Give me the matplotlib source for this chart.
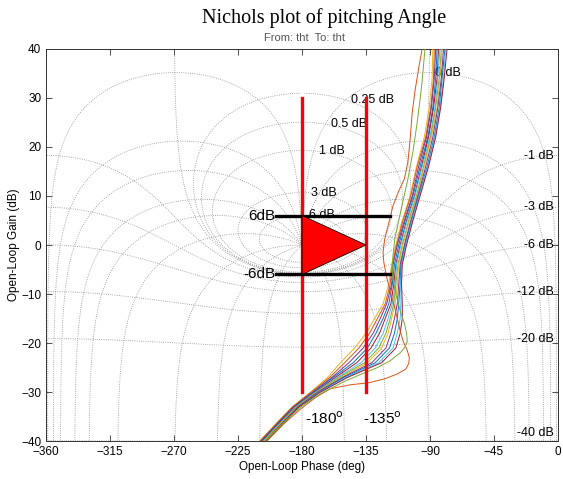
import numpy as np
import matplotlib.pyplot as plt

plt.rcParams['font.family'] = ['Liberation Sans', 'DejaVu Sans']

# Nichols chart grid levels (closed-loop gain in dB, closed-loop phase in deg)
GRID_GAINS_DB = [6, 3, 1, 0.5, 0.25, 0, -1, -3, -6, -12, -20, -40]
GRID_PHASES_DEG = [-1, -5, -10, -20, -30, -50, -90, -120, -150, -180]

X_TICKS = [-360, -315, -270, -225, -180, -135, -90, -45, 0]
Y_TICKS = [-40, -30, -20, -10, 0, 10, 20, 30, 40]

# open-loop gain levels at which the bundle of runs was read (dB)
GAIN_LEVELS = [-40, -36, -33, -30, -27, -24, -21, -18, -15, -12,
               -8, -4, 0, 5, 10, 16, 22, 28, 34, 40]

# open-loop phase (deg) of each run at GAIN_LEVELS
RUN_01 = [-210, -197, -187, -174, -162, -153, -143, -135, -129, -123,
          -119, -117, -114, -109.5, -104, -99.5, -94, -90.5, -88.5, -88]
RUN_02 = [-209.5, -196.5, -186.5, -173.5, -160.5, -150, -140, -132.5, -127, -121.5,
          -118, -116.5, -113.5, -109, -103.5, -99, -93, -89.5, -87.5, -87]
RUN_03 = [-209, -196, -186, -172.5, -159, -147, -137, -130, -125, -120.5,
          -117, -116, -113, -108, -102.5, -98, -92.5, -89, -87, -86]
RUN_04 = [-208.5, -195.5, -185.5, -172, -158, -144, -134, -128, -123, -119,
          -116.5, -115, -112, -107.5, -102, -97, -91.5, -88, -86, -85]
RUN_05 = [-208, -195, -185, -171, -156.5, -141.5, -131.5, -125.5, -121.5, -117.5,
          -115.5, -114, -111, -106.5, -101, -96, -91, -87.5, -85, -84]
RUN_06 = [-207.5, -194.5, -184.5, -170.5, -155, -138.5, -128.5, -123, -119.5, -116.5,
          -114.5, -113.5, -110.5, -106, -100.5, -95.5, -90, -86.5, -84.5, -83]
RUN_07 = [-207, -194, -184, -170, -154, -136, -126, -121, -118, -115.5,
          -114, -112.5, -109.5, -105, -99.5, -94.5, -89.5, -86, -83.5, -82]
RUN_08 = [-206.5, -193.5, -183.5, -169.5, -152.5, -134, -124, -119.5, -117, -114.5,
          -113, -112, -109, -104.5, -99, -94, -89, -85, -83, -81.5]
RUN_09 = [-206, -193, -183, -169, -151.5, -131, -121, -117.5, -115, -113,
          -112, -111, -108, -103.5, -98.5, -93, -88, -84.5, -82, -80.5]
RUN_10 = [-205.5, -192.5, -182.5, -168, -150.5, -128.5, -118.5, -115, -113, -112,
          -111, -110.5, -107.5, -103, -98, -92, -87, -83.5, -81.5, -79.5]
RUN_11 = [-205, -192, -182, -167.5, -149, -126, -116, -113, -111, -110.5,
          -110.5, -110, -107, -102.5, -97.5, -91.5, -86.5, -83, -80.5, -79]
RUN_12 = [-205, -192, -182, -167, -148, -124, -114, -111, -109.5, -109.5,
          -110, -109.5, -106.5, -102, -97, -91, -86, -82.5, -80, -78]
RUNS = [RUN_01, RUN_02, RUN_03, RUN_04, RUN_05, RUN_06,
        RUN_07, RUN_08, RUN_09, RUN_10, RUN_11, RUN_12]

# two runs that bulge out to the right at low gain
WIDE_A_PHASE = [-205, -193, -180, -170, -160, -146, -133, -122, -113, -107, -105,
                -104.5, -106, -109, -111, -113, -115, -118, -120.5, -122.5, -123,
                -122, -119, -116, -112, -108, -105.5, -104, -102.5, -100.5, -98, -95.5]
WIDE_A_GAIN = [-40, -36.5, -33.2, -31, -29.3, -28.5, -28.1, -27.3, -26.3, -25.3, -24.2,
               -23, -21.5, -19.5, -17.5, -15, -12.5, -9.5, -6.5, -3.5, -1.5,
               1, 4.5, 8, 11, 13.5, 17, 21.5, 27, 31.5, 36, 40]
WIDE_B_PHASE = [-206, -194, -180, -165, -150, -138, -127, -118, -111, -107.5, -106,
                -106.5, -108, -111, -114, -116, -116.5, -116, -114.6, -112, -109,
                -105.5, -102, -99, -96, -93.5]
WIDE_B_GAIN = [-40, -36.5, -32.8, -30, -27.8, -26.3, -25, -23.6, -22, -20.8, -19.6,
               -18, -16, -13.4, -10, -7, -5, -2, 1.5, 5, 9,
               13.5, 19, 25, 32, 40]

RUN_COLORS = ['#EDB120', '#D95319', '#7E2F8E', '#0072BD', '#A2142F', '#4DBEEE',
              '#77AC30', '#EDB120', '#7E2F8E', '#0072BD', '#4DBEEE', '#A2142F']

# design-target markers
MARGIN_PHASES = [-180, -135]
MARGIN_SPAN = [-30, 30]
GAIN_MARKS = [6, -6]
GAIN_MARK_SPAN = [-198, -118]
TRIANGLE_PHASE = [-180, -180, -135]
TRIANGLE_GAIN = [6, -6, 0]


def gain_contour(m_db):
    m = 10 ** (m_db / 20.0)
    th = np.radians(np.linspace(-359.95, -0.05, 4000))
    t = m * np.exp(1j * th)
    den = 1 - t
    ph = np.degrees(th - np.angle(den))
    return ph, 20 * np.log10(np.abs(t / den))


def phase_contour(th_deg):
    m = np.unique(np.concatenate([np.logspace(-4, 4, 3000),
                                  np.linspace(0.8, 1.2, 4000)]))
    t = m * np.exp(1j * np.radians(th_deg))
    den = 1 - t
    ph = th_deg - np.degrees(np.angle(den))
    return ph, 20 * np.log10(np.abs(t / den))


fig = plt.figure(figsize=(5.63, 4.79), dpi=100)
ax = fig.add_axes([0.082, 0.079, 0.909, 0.819])

grid_kw = dict(color='#8c8c8c', lw=0.6, ls=':', zorder=1)
for gdb in GRID_GAINS_DB:
    ph, g = gain_contour(gdb)
    ax.plot(ph, g, **grid_kw)
    # label where the contour meets the -1 deg closed-loop phase line
    m = 10 ** (gdb / 20.0)
    t = m * np.exp(1j * np.radians(-1))
    lp = -1 - np.degrees(np.angle(1 - t))
    lg = 20 * np.log10(abs(t / (1 - t)))
    txt = '%g dB' % gdb
    if gdb >= 0:
        ax.text(lp + 4, lg, txt, fontsize=9, ha='left', va='center', zorder=2)
    else:
        ax.text(-3, max(lg, -38.3), txt, fontsize=9, ha='right', va='center', zorder=2)

for th in GRID_PHASES_DEG:
    ph, g = phase_contour(th)
    ax.plot(ph, g, **grid_kw)
    if th != -180:
        ph, g = phase_contour(-360 - th)
        ax.plot(ph, g, **grid_kw)

for run, col in zip(RUNS, RUN_COLORS):
    ax.plot(run, GAIN_LEVELS, color=col, lw=0.7, zorder=3)
ax.plot(WIDE_A_PHASE, WIDE_A_GAIN, color='#D95319', lw=0.7, zorder=3)
ax.plot(WIDE_B_PHASE, WIDE_B_GAIN, color='#77AC30', lw=0.7, zorder=3)

for p in MARGIN_PHASES:
    ax.plot([p, p], MARGIN_SPAN, color='red', lw=2.4, zorder=4)
for g in GAIN_MARKS:
    ax.plot(GAIN_MARK_SPAN, [g, g], color='black', lw=2.4, zorder=4)
ax.fill(TRIANGLE_PHASE, TRIANGLE_GAIN, facecolor='red', edgecolor='black',
        lw=0.6, zorder=5)

ax.text(-199, 6, '6dB', fontsize=11, ha='right', va='center', zorder=6)
ax.text(-199, -6, '-6dB', fontsize=11, ha='right', va='center', zorder=6)
ax.text(-178, -35.5, r'-180$^{\rm o}$', fontsize=11, ha='left', va='center', zorder=6)
ax.text(-137, -35.5, r'-135$^{\rm o}$', fontsize=11, ha='left', va='center', zorder=6)

ax.set_xlim(-360, 0)
ax.set_ylim(-40, 40)
ax.set_xticks(X_TICKS)
ax.set_yticks(Y_TICKS)
ax.tick_params(direction='in', top=True, right=True, length=4, width=0.6,
               labelsize=8.5, color='#333333', pad=3.5)
for s in ax.spines.values():
    s.set_color('#333333')
    s.set_linewidth(0.7)
ax.set_xlabel('Open-Loop Phase (deg)', fontsize=8.5, labelpad=2)
ax.set_ylabel('Open-Loop Gain (dB)', fontsize=8.5, labelpad=1)

fig.text(0.575, 0.962, 'Nichols plot of pitching Angle', fontsize=14.5,
         family=['Liberation Serif', 'DejaVu Serif'], ha='center', va='center')
fig.text(0.54, 0.921, 'From: tht  To: tht', fontsize=8, color='#555555',
         ha='center', va='center')

fig.savefig('out.png', dpi=100)
